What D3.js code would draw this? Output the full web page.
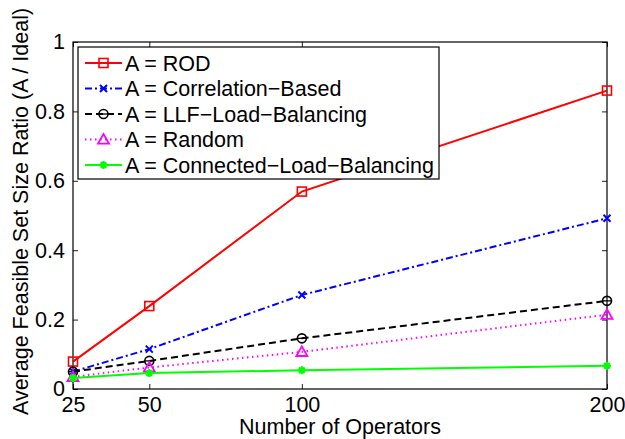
<!DOCTYPE html>
<html>
<head>
<meta charset="utf-8">
<script src="https://cdn.jsdelivr.net/npm/d3@7"></script>
<style>
  html, body { margin: 0; padding: 0; background: #fff; }
  svg { display: block; font-family: "Liberation Sans", Arial, Helvetica, sans-serif; }
</style>
</head>
<body>
<svg id="chart" width="625" height="439"></svg>
<script>
// Number of operators on the x axis
const operators = [25, 50, 100, 200];

// Average feasible set size ratio (A / Ideal) for each allocation scheme
const rodValues         = [0.079, 0.239, 0.569, 0.860];
const correlationValues = [0.050, 0.115, 0.271, 0.492];
const llfValues         = [0.050, 0.081, 0.146, 0.254];
const randomValues      = [0.035, 0.062, 0.107, 0.214];
const connectedValues   = [0.032, 0.046, 0.054, 0.067];

const seriesNames = [
  "A = ROD",
  "A = Correlation\u2212Based",
  "A = LLF\u2212Load\u2212Balancing",
  "A = Random",
  "A = Connected\u2212Load\u2212Balancing"
];

const xTicks = [25, 50, 100, 200];
const yTicks = [0, 0.2, 0.4, 0.6, 0.8, 1];

const series = [
  { name: seriesNames[0], values: rodValues,         color: "#ff0000", dash: null,          marker: "square" },
  { name: seriesNames[1], values: correlationValues, color: "#0000ff", dash: "7,3,2,3",     marker: "x" },
  { name: seriesNames[2], values: llfValues,         color: "#000000", dash: "7,4",         marker: "circle" },
  { name: seriesNames[3], values: randomValues,      color: "#ff00ff", dash: "1.5,3.5",     marker: "triangle" },
  { name: seriesNames[4], values: connectedValues,   color: "#00ff00", dash: null,          marker: "star" }
];

const svg = d3.select("#chart");
const margin = { left: 73, top: 42, right: 625 - 607, bottom: 439 - 389 };
const W = 625 - margin.left - margin.right;
const H = 439 - margin.top - margin.bottom;

const x = d3.scaleLinear().domain([25, 200]).range([0, W]);
const y = d3.scaleLinear().domain([0, 1]).range([H, 0]);

const g = svg.append("g").attr("transform", `translate(${margin.left},${margin.top})`);

// Box axes with inward ticks
const tickLen = 5;
const fontSize = 21.5;

const axisBottom = d3.axisBottom(x).tickValues(xTicks).tickSizeInner(-tickLen).tickSizeOuter(0).tickPadding(8).tickFormat(d3.format("d"));
const axisTop = d3.axisTop(x).tickValues(xTicks).tickSizeInner(-tickLen).tickSizeOuter(0).tickFormat("");
const axisLeft = d3.axisLeft(y).tickValues(yTicks).tickSizeInner(-tickLen).tickSizeOuter(0).tickPadding(8).tickFormat(d => d === 0 ? "0" : d === 1 ? "1" : d3.format(".1f")(d));
const axisRight = d3.axisRight(y).tickValues(yTicks).tickSizeInner(-tickLen).tickSizeOuter(0).tickFormat("");

function styleAxis(sel) {
  sel.attr("font-size", fontSize).attr("font-family", "Liberation Sans, Arial, sans-serif");
  sel.select(".domain").remove();
  sel.selectAll(".tick line").attr("stroke", "#222").attr("stroke-width", 1);
  sel.selectAll(".tick text").attr("font-size", fontSize).attr("fill", "#000");
}

g.append("g").attr("transform", `translate(0,${H})`).call(axisBottom).call(styleAxis);
g.append("g").call(axisTop).call(styleAxis);
g.append("g").call(axisLeft).call(styleAxis);
g.append("g").attr("transform", `translate(${W},0)`).call(axisRight).call(styleAxis);

g.append("rect").attr("x", 0).attr("y", 0).attr("width", W).attr("height", H)
  .attr("fill", "none").attr("stroke", "#000").attr("stroke-width", 1.2);

// Marker drawing
function drawMarker(sel, type, color, cx, cy) {
  if (type === "square") {
    sel.append("rect").attr("x", cx - 4.5).attr("y", cy - 4.5).attr("width", 9).attr("height", 9)
      .attr("fill", "none").attr("stroke", color).attr("stroke-width", 1.6);
  } else if (type === "x") {
    const s = 3.5;
    sel.append("path").attr("d", `M${cx - s},${cy - s}L${cx + s},${cy + s}M${cx - s},${cy + s}L${cx + s},${cy - s}`)
      .attr("stroke", color).attr("stroke-width", 2).attr("fill", "none");
  } else if (type === "circle") {
    sel.append("circle").attr("cx", cx).attr("cy", cy).attr("r", 4.5)
      .attr("fill", "none").attr("stroke", color).attr("stroke-width", 1.6);
    sel.append("line").attr("x1", cx - 4).attr("x2", cx + 4).attr("y1", cy).attr("y2", cy)
      .attr("stroke", color).attr("stroke-width", 1.3);
  } else if (type === "triangle") {
    const s = 5.5;
    sel.append("path").attr("d", `M${cx},${cy - s}L${cx + s},${cy + s * 0.75}L${cx - s},${cy + s * 0.75}Z`)
      .attr("fill", "none").attr("stroke", color).attr("stroke-width", 1.8);
  } else if (type === "star") {
    const s = 4;
    let d = "";
    for (let i = 0; i < 4; i++) {
      const a = i * Math.PI / 4;
      d += `M${cx - s * Math.cos(a)},${cy - s * Math.sin(a)}L${cx + s * Math.cos(a)},${cy + s * Math.sin(a)}`;
    }
    sel.append("path").attr("d", d).attr("stroke", color).attr("stroke-width", 2.2).attr("fill", "none");
    sel.append("circle").attr("cx", cx).attr("cy", cy).attr("r", 2.5).attr("fill", color);
  }
}

const line = d3.line().x((d, i) => x(operators[i])).y(d => y(d));

series.forEach(s => {
  g.append("path").datum(s.values).attr("d", line)
    .attr("fill", "none").attr("stroke", s.color).attr("stroke-width", 2)
    .attr("stroke-dasharray", s.dash);
  const mg = g.append("g");
  s.values.forEach((v, i) => drawMarker(mg, s.marker, s.color, x(operators[i]), y(v)));
});

// Legend
const legend = svg.append("g");
const lgX = 78, lgY = 47, lgW = 361, lgH = 132, rowH = 25.5;
legend.append("rect").attr("x", lgX).attr("y", lgY).attr("width", lgW).attr("height", lgH)
  .attr("fill", "#fff").attr("stroke", "#000").attr("stroke-width", 1.2);
series.forEach((s, i) => {
  const cy = lgY + 16 + i * rowH;
  legend.append("line").attr("x1", 85).attr("x2", 122).attr("y1", cy).attr("y2", cy)
    .attr("stroke", s.color).attr("stroke-width", 2).attr("stroke-dasharray", s.dash);
  drawMarker(legend, s.marker, s.color, 103.5, cy);
  legend.append("text").attr("x", 125).attr("y", cy + 7.5).attr("font-size", fontSize)
    .attr("fill", "#000").text(s.name);
});

// Axis titles
svg.append("text").attr("x", margin.left + W / 2).attr("y", 434).attr("text-anchor", "middle")
  .attr("font-size", fontSize).attr("fill", "#000").text("Number of Operators");
svg.append("text").attr("transform", `translate(28,${margin.top + H / 2 - 4}) rotate(-90)`)
  .attr("text-anchor", "middle").attr("font-size", fontSize).attr("fill", "#000")
  .text("Average Feasible Set Size Ratio (A / Ideal)");
</script>
</body>
</html>
